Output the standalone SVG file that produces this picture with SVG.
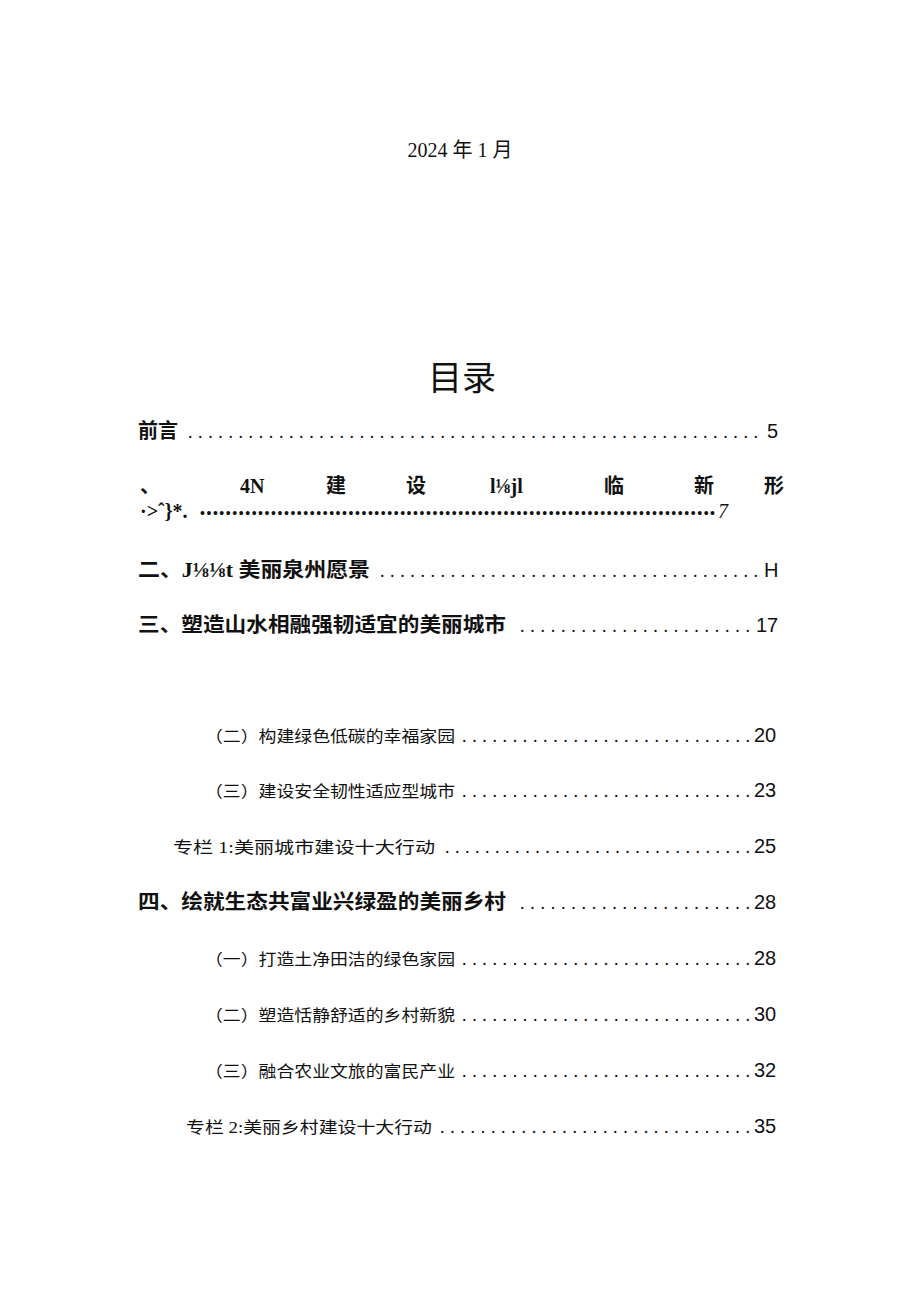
<svg xmlns="http://www.w3.org/2000/svg" width="920" height="1301" viewBox="0 0 920 1301">
<style>
text{font-family:"Liberation Serif","Noto Sans CJK SC",serif;fill:#111}
.h{font-size:20px;font-weight:bold}
.s{font-size:16px}
.n{font-family:"Liberation Sans Narrow","Liberation Sans",sans-serif;font-size:20px}
.d{font-size:18px;letter-spacing:0}
</style>
<rect width="920" height="1301" fill="#fff"/>
<g id="date"><text x="460" y="157" text-anchor="middle" style="font-size:20px">2024 年 1 月</text></g>
<g id="title"><text x="462" y="390" text-anchor="middle" style="font-size:34px">目录</text></g>
<g id="l1"><text class="h" x="138" y="438">前言</text><text class="d" x="188" y="438" textLength="570" lengthAdjust="spacing">.........................................................</text><text class="n" x="767" y="438">5</text></g>
<g id="l2"><text class="h" x="140" y="493">、</text><text class="h" x="240" y="493">4N</text><text class="h" x="326" y="493">建</text><text class="h" x="406" y="493">设</text><text class="h" x="490" y="493">l⅛jl</text><text class="h" x="604" y="493">临</text><text class="h" x="694" y="493">新</text><text class="h" x="764" y="493">形</text>
<text class="h" x="140" y="518">·&gt;ˆ}*.</text><text x="200" y="518" style="font-size:14px;font-weight:bold" textLength="515" lengthAdjust="spacing">••••••••••••••••••••••••••••••••••••••••••••••••••••••••••••••••••••••••••••••••</text><text x="718" y="518" style="font-size:20px;font-style:italic">7</text></g>
<g id="l3"><text class="h" x="138" y="577" textLength="232" lengthAdjust="spacingAndGlyphs">二、J⅛⅛t 美丽泉州愿景</text><text class="d" x="380" y="577" textLength="378" lengthAdjust="spacing">......................................</text><text class="n" x="764" y="577">H</text></g>
<g id="l4"><text class="h" x="138" y="632" textLength="368" lengthAdjust="spacingAndGlyphs">三、塑造山水相融强韧适宜的美丽城市</text><text class="d" x="520" y="632" textLength="230" lengthAdjust="spacing">.......................</text><text class="n" x="756" y="632">17</text></g>
<g id="l5"><text class="s" x="205" y="742" textLength="250" lengthAdjust="spacingAndGlyphs">（二）构建绿色低碳的幸福家园</text><text class="d" x="462" y="742" textLength="288" lengthAdjust="spacing">.............................</text><text class="n" x="754" y="742">20</text></g>
<g id="l6"><text class="s" x="205" y="797" textLength="250" lengthAdjust="spacingAndGlyphs">（三）建设安全韧性适应型城市</text><text class="d" x="462" y="797" textLength="288" lengthAdjust="spacing">.............................</text><text class="n" x="754" y="797">23</text></g>
<g id="l7"><text class="s" x="173" y="853" textLength="262" lengthAdjust="spacingAndGlyphs">专栏 1:美丽城市建设十大行动</text><text class="d" x="445" y="853" textLength="305" lengthAdjust="spacing">...............................</text><text class="n" x="754" y="853">25</text></g>
<g id="l8"><text class="h" x="138" y="909" textLength="368" lengthAdjust="spacingAndGlyphs">四、绘就生态共富业兴绿盈的美丽乡村</text><text class="d" x="520" y="909" textLength="230" lengthAdjust="spacing">.......................</text><text class="n" x="754" y="909">28</text></g>
<g id="l9"><text class="s" x="205" y="965" textLength="250" lengthAdjust="spacingAndGlyphs">（一）打造土净田洁的绿色家园</text><text class="d" x="462" y="965" textLength="288" lengthAdjust="spacing">.............................</text><text class="n" x="754" y="965">28</text></g>
<g id="l10"><text class="s" x="205" y="1021" textLength="250" lengthAdjust="spacingAndGlyphs">（二）塑造恬静舒适的乡村新貌</text><text class="d" x="462" y="1021" textLength="288" lengthAdjust="spacing">.............................</text><text class="n" x="754" y="1021">30</text></g>
<g id="l11"><text class="s" x="205" y="1077" textLength="250" lengthAdjust="spacingAndGlyphs">（三）融合农业文旅的富民产业</text><text class="d" x="462" y="1077" textLength="288" lengthAdjust="spacing">.............................</text><text class="n" x="754" y="1077">32</text></g>
<g id="l12"><text class="s" x="186" y="1133" textLength="246" lengthAdjust="spacingAndGlyphs">专栏 2:美丽乡村建设十大行动</text><text class="d" x="440" y="1133" textLength="310" lengthAdjust="spacing">...............................</text><text class="n" x="754" y="1133">35</text></g>
</svg>
